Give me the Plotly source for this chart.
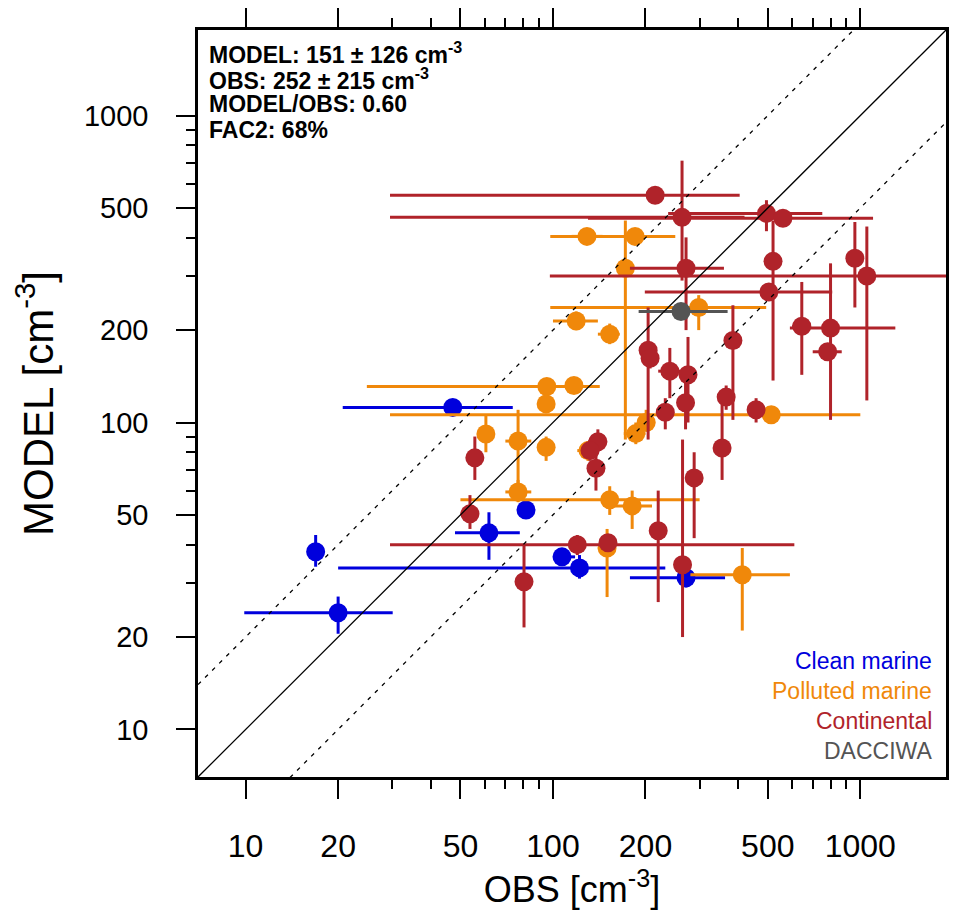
import numpy as np
import plotly.graph_objects as go

# Clean marine
clean_obs = [16.9, 20.0, 47.2, 61.9, 81.7, 107, 122, 271]
clean_mod = [37.9, 24.0, 112, 43.7, 51.9, 36.5, 33.6, 31.2]
clean_obs_lo = [16.9, 9.9, 20.7, 48, 80, 100, 20, 178]
clean_obs_hi = [16.9, 30.1, 74, 78, 84, 118, 232, 363]
clean_mod_lo = [33.9, 20.5, 108, 35.7, 50, 35, 31, 29]
clean_mod_hi = [43.0, 27.1, 116, 51, 54, 38, 37, 33]

# Polluted marine
poll_obs = [129, 185, 172, 298, 119, 153, 95.5, 117, 95, 60.5, 77, 95, 130,
            186, 201, 513, 77, 153, 181, 150, 413]
poll_mod = [404, 404, 318, 237, 214, 194, 131, 132, 115, 91.7, 87, 83, 81,
            92, 100, 106, 59.4, 56, 53.5, 39, 31.9]
poll_obs_lo = [115, 98, 172, 98, 100, 140, 24.8, 110, 90, 58, 70, 90, 120,
               170, 190, 29.5, 70, 50, 150, 140, 280]
poll_obs_hi = [145, 250, 172, 494, 140, 165, 142, 125, 100, 63, 85, 100, 140,
               200, 215, 1000, 85, 300, 210, 160, 590]
poll_mod_lo = [390, 380, 88, 200, 200, 180, 125, 125, 110, 80, 60, 75, 75,
               85, 95, 100, 55, 50, 45, 27, 21]
poll_mod_hi = [420, 430, 455, 260, 230, 210, 137, 140, 120, 105, 110, 90, 87,
               100, 110, 112, 65, 62, 60, 45, 39]

# Continental
cont_obs = [215, 263, 495, 560, 520, 504, 271, 960, 1050, 645, 800, 783, 385,
            204, 207, 240, 275, 270, 232, 366, 458, 355, 288, 55.7, 53.7, 140,
            132, 138, 120, 151, 220, 264, 80.5]
cont_mod = [550, 466, 480, 463, 335, 266, 318, 343, 300, 206, 203, 170, 185,
            172, 162, 147, 143, 116, 108, 121, 110, 82.6, 66, 76.7, 50.4, 86.5,
            81, 71, 40, 40.6, 44.4, 34.4, 30.3]
cont_obs_lo = [29.5, 29.5, 237, 130, 500, 199, 178, 950, 97.7, 600, 590, 700,
               370, 195, 195, 220, 260, 255, 220, 350, 440, 340, 270, 53, 50,
               130, 125, 130, 29.5, 145, 210, 250, 78]
cont_obs_hi = [405, 420, 752, 1100, 540, 810, 360, 970, 1900, 690, 1300, 870,
               400, 215, 220, 260, 290, 285, 245, 380, 475, 370, 305, 58, 57,
               150, 140, 146, 610, 158, 230, 280, 83]
cont_mod_lo = [520, 290, 420, 440, 137, 255, 200, 237, 118, 143, 102, 160, 102,
               88, 150, 120, 100, 95, 95, 110, 100, 65, 42, 65, 45, 80, 75, 60,
               37, 38, 26, 20, 21.5]
cont_mod_hi = [580, 713, 530, 490, 455, 280, 401, 450, 435, 287, 330, 180, 241,
               237, 175, 175, 190, 135, 120, 132, 120, 120, 80, 90, 58, 95, 88,
               80, 43, 43, 60, 88, 40]

# DACCIWA
dac_obs = [261]
dac_mod = [230]
dac_obs_lo = [190]
dac_obs_hi = [370]
dac_mod_lo = [218]
dac_mod_hi = [242]

x_lim = [7, 1900]
y_lim = [7, 1900]

groups = [
    ("Clean marine", "#0000dd", clean_obs, clean_mod, clean_obs_lo,
     clean_obs_hi, clean_mod_lo, clean_mod_hi),
    ("Polluted marine", "#f0880a", poll_obs, poll_mod, poll_obs_lo,
     poll_obs_hi, poll_mod_lo, poll_mod_hi),
    ("Continental", "#b0232a", cont_obs, cont_mod, cont_obs_lo, cont_obs_hi,
     cont_mod_lo, cont_mod_hi),
    ("DACCIWA", "#545454", dac_obs, dac_mod, dac_obs_lo, dac_obs_hi,
     dac_mod_lo, dac_mod_hi),
]

fig = go.Figure()

for name, color, xo, ym, xlo, xhi, ylo, yhi in groups:
    xo = np.array(xo, dtype=float)
    ym = np.array(ym, dtype=float)
    fig.add_trace(go.Scatter(
        x=xo, y=ym, mode="markers", name=name,
        marker=dict(color=color, size=19, line=dict(width=0)),
        error_x=dict(type="data", symmetric=False,
                     array=np.array(xhi) - xo, arrayminus=xo - np.array(xlo),
                     color=color, thickness=3, width=0),
        error_y=dict(type="data", symmetric=False,
                     array=np.array(yhi) - ym, arrayminus=ym - np.array(ylo),
                     color=color, thickness=3, width=0),
    ))

# 1:1 and factor-of-two lines
lx = np.array(x_lim, dtype=float)
fig.add_trace(go.Scatter(x=lx, y=lx, mode="lines",
                         line=dict(color="black", width=1.3)))
fig.add_trace(go.Scatter(x=lx, y=lx * 2, mode="lines",
                         line=dict(color="black", width=1.3, dash="4px,6px")))
fig.add_trace(go.Scatter(x=lx, y=lx / 2, mode="lines",
                         line=dict(color="black", width=1.3, dash="4px,6px")))

tick_vals = [10, 20, 50, 100, 200, 500, 1000]
minor_vals = [30, 40, 60, 70, 80, 90, 300, 400, 600, 700, 800, 900]

axis_common = dict(
    type="log", tickvals=tick_vals, ticktext=[str(v) for v in tick_vals],
    ticks="outside", ticklen=19, tickwidth=2, tickcolor="black",
    showline=True, linewidth=2.5, linecolor="black", mirror="allticks",
    showgrid=False, zeroline=False, automargin=False,
    minor=dict(tickvals=minor_vals, ticks="outside", ticklen=9, tickwidth=1.5,
               tickcolor="black", showgrid=False),
)

# the page body adds an 8 px offset, so the figure is 8 px smaller each way
fig.update_layout(
    width=949, height=910,
    margin=dict(l=190, r=11, t=22, b=141),
    paper_bgcolor="white", plot_bgcolor="white",
    showlegend=False,
    font=dict(family="Liberation Sans, Arial, sans-serif", color="black"),
    xaxis=dict(axis_common, range=[np.log10(x_lim[0]), np.log10(x_lim[1])],
               tickfont=dict(size=32), ticklabelstandoff=20,
               title=dict(text="OBS [cm<sup>-3</sup>]", font=dict(size=36),
                          standoff=12)),
    yaxis=dict(axis_common, range=[np.log10(y_lim[0]), np.log10(y_lim[1])],
               tickfont=dict(size=29), ticklabelstandoff=22,
               title=dict(text="MODEL [cm<sup>-3</sup>]", font=dict(size=42),
                          standoff=20)),
)

stats_lines = ["<b>MODEL: 151 \u00b1 126 cm<sup>-3</sup></b>",
               "<b>OBS: 252 \u00b1 215 cm<sup>-3</sup></b>",
               "<b>MODEL/OBS: 0.60</b>",
               "<b>FAC2: 68%</b>"]
for i, line in enumerate(stats_lines):
    fig.add_annotation(text=line, xref="paper", yref="paper", x=0, y=1,
                       xanchor="left", yanchor="middle", xshift=9,
                       yshift=-23 - 25.5 * i, align="left", showarrow=False,
                       font=dict(size=23, color="black"))

legend_y = [0.155, 0.115, 0.075, 0.035]
for (name, color, *_), ly in zip(groups, legend_y):
    fig.add_annotation(text=name, xref="paper", yref="paper", x=1, y=ly,
                       xanchor="right", yanchor="middle", xshift=-12,
                       showarrow=False, font=dict(size=23, color=color))

fig.write_html("out.html")
